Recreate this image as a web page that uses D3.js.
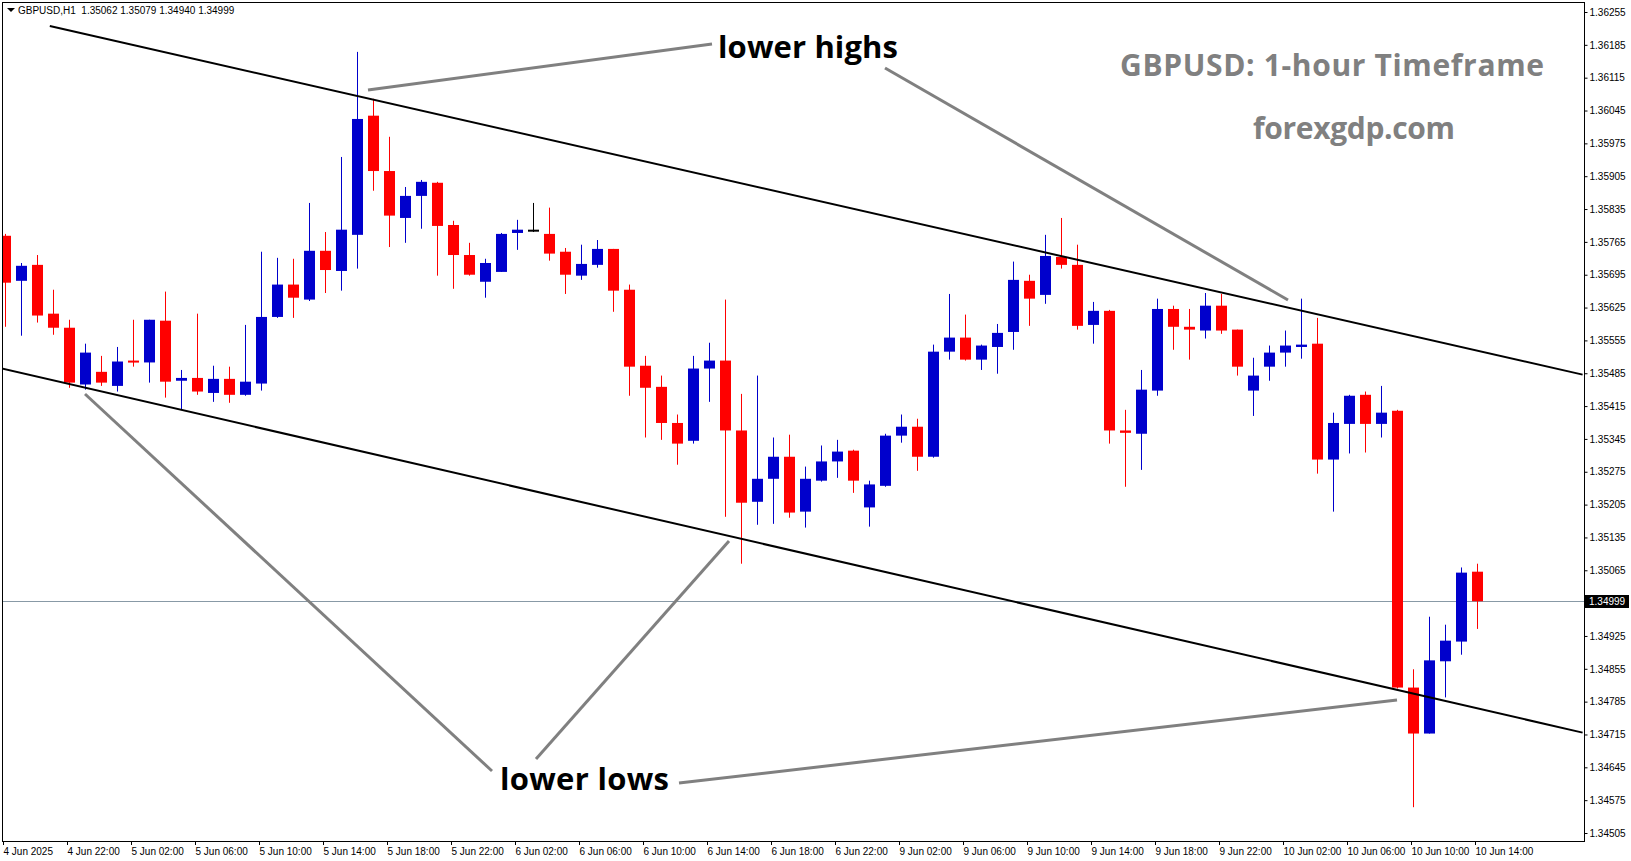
<!DOCTYPE html>
<html lang="en">
<head>
<meta charset="UTF-8">
<title>GBPUSD H1</title>
<script src="https://d3js.org/d3.v7.min.js"></script>
<style>
  body { margin: 0; background: #fff; }
  svg { display: block; }
</style>
</head>
<body>
<script>
// candle data, 4 Jun 18:00 .. 10 Jun 14:00 (H1)
const opens = [1.35778,1.35682,1.35716,1.35612,1.35582,1.35461,1.35488,1.35458,1.35512,1.35508,
  1.35597,1.35469,1.35475,1.35443,1.35473,1.35439,1.35463,1.35605,1.35674,1.35642,
  1.35746,1.35703,1.35780,1.36034,1.35916,1.35816,1.35863,1.35891,1.35801,1.35737,
  1.35680,1.35701,1.35784,1.35791,1.35782,1.35744,1.35693,1.35716,1.35750,1.35663,
  1.35501,1.35456,1.35379,1.35341,1.35495,1.35512,1.35363,1.35211,1.35260,1.35307,
  1.35190,1.35256,1.35297,1.35320,1.35199,1.35245,1.35352,1.35371,1.35307,1.35531,
  1.35561,1.35514,1.35541,1.35573,1.35682,1.35652,1.35733,1.35716,1.35588,1.35618,
  1.35363,1.35356,1.35448,1.35622,1.35584,1.35576,1.35629,1.35578,1.35448,1.35499,
  1.35529,1.35541,1.35548,1.35301,1.35377,1.35439,1.35377,1.35405,1.34815,1.34717,
  1.34871,1.34913,1.35062];
const highs = [1.35782,1.35720,1.35737,1.35663,1.35599,1.35548,1.35522,1.35541,1.35599,1.35599,
  1.35659,1.35492,1.35612,1.35501,1.35499,1.35588,1.35744,1.35731,1.35729,1.35848,
  1.35786,1.35946,1.36170,1.36070,1.35989,1.35882,1.35897,1.35893,1.35810,1.35763,
  1.35729,1.35784,1.35812,1.35848,1.35838,1.35752,1.35759,1.35769,1.35750,1.35674,
  1.35522,1.35480,1.35397,1.35522,1.35550,1.35642,1.35441,1.35480,1.35348,1.35354,
  1.35286,1.35331,1.35343,1.35322,1.35256,1.35356,1.35397,1.35388,1.35546,1.35654,
  1.35610,1.35546,1.35590,1.35723,1.35695,1.35780,1.35816,1.35759,1.35637,1.35620,
  1.35407,1.35492,1.35644,1.35629,1.35622,1.35656,1.35654,1.35578,1.35518,1.35544,
  1.35576,1.35644,1.35603,1.35401,1.35439,1.35446,1.35458,1.35407,1.34854,1.34966,
  1.34949,1.35071,1.35079];
const lows = [1.35584,1.35565,1.35593,1.35567,1.35454,1.35450,1.35458,1.35446,1.35499,1.35465,
  1.35433,1.35407,1.35439,1.35424,1.35422,1.35437,1.35448,1.35603,1.35603,1.35639,
  1.35656,1.35661,1.35708,1.35874,1.35754,1.35763,1.35793,1.35693,1.35665,1.35693,
  1.35646,1.35701,1.35748,1.35786,1.35725,1.35654,1.35684,1.35710,1.35616,1.35437,
  1.35348,1.35343,1.35290,1.35335,1.35424,1.35179,1.35079,1.35162,1.35164,1.35177,
  1.35156,1.35254,1.35262,1.35230,1.35158,1.35243,1.35337,1.35277,1.35305,1.35514,
  1.35512,1.35492,1.35484,1.35535,1.35586,1.35633,1.35708,1.35578,1.35548,1.35335,
  1.35243,1.35279,1.35437,1.35535,1.35514,1.35559,1.35569,1.35480,1.35394,1.35469,
  1.35499,1.35516,1.35271,1.35190,1.35314,1.35316,1.35348,1.34813,1.34560,1.34717,
  1.34794,1.34885,1.34940];
const closes = [1.35678,1.35714,1.35608,1.35582,1.35465,1.35529,1.35465,1.35510,1.35508,1.35599,
  1.35467,1.35475,1.35446,1.35473,1.35439,1.35467,1.35605,1.35674,1.35646,1.35746,
  1.35705,1.35791,1.36027,1.35916,1.35821,1.35863,1.35893,1.35799,1.35737,1.35695,
  1.35720,1.35782,1.35791,1.35791,1.35740,1.35695,1.35718,1.35750,1.35661,1.35499,
  1.35454,1.35379,1.35335,1.35495,1.35512,1.35363,1.35209,1.35260,1.35307,1.35188,
  1.35260,1.35297,1.35318,1.35256,1.35248,1.35352,1.35371,1.35307,1.35531,1.35561,
  1.35514,1.35544,1.35571,1.35684,1.35644,1.35735,1.35716,1.35586,1.35618,1.35363,
  1.35358,1.35450,1.35622,1.35584,1.35578,1.35629,1.35576,1.35499,1.35480,1.35529,
  1.35544,1.35546,1.35301,1.35379,1.35437,1.35377,1.35401,1.34815,1.34717,1.34873,
  1.34915,1.35060,1.34999];

const timeLabels = ["4 Jun 2025","4 Jun 22:00","5 Jun 02:00","5 Jun 06:00","5 Jun 10:00","5 Jun 14:00",
  "5 Jun 18:00","5 Jun 22:00","6 Jun 02:00","6 Jun 06:00","6 Jun 10:00","6 Jun 14:00","6 Jun 18:00",
  "6 Jun 22:00","9 Jun 02:00","9 Jun 06:00","9 Jun 10:00","9 Jun 14:00","9 Jun 18:00","9 Jun 22:00",
  "10 Jun 02:00","10 Jun 06:00","10 Jun 10:00","10 Jun 14:00"];
const priceTicks = [1.36255,1.36185,1.36115,1.36045,1.35975,1.35905,1.35835,1.35765,1.35695,1.35625,
  1.35555,1.35485,1.35415,1.35345,1.35275,1.35205,1.35135,1.35065,1.34925,1.34855,
  1.34785,1.34715,1.34645,1.34575,1.34505];
const lastPrice = 1.34999;

// trend channel: [candle index, price]
const upperLine = [[2.8, 1.36225], [98.6, 1.35482]];
const lowerLine = [[-0.2, 1.35495], [98.6, 1.34719]];

const w = 1631, h = 861;
const pL = 3, pT = 3, pR = 1584, pB = 841;

const svg = d3.select("body").append("svg").attr("width", w).attr("height", h);

const x = d3.scaleLinear().domain([0, 92]).range([5, 1477]);
const y = d3.scaleLinear().domain([1.34505, 1.36255]).range([833, 12]);

svg.append("defs").append("clipPath").attr("id", "plot")
  .append("rect").attr("x", pL).attr("y", pT).attr("width", pR - pL).attr("height", pB - pT);

// frame
svg.append("rect").attr("x", pL - 0.5).attr("y", pT - 0.5)
  .attr("width", pR - pL + 1).attr("height", pB - pT + 1)
  .attr("fill", "none").attr("stroke", "#000");

// price axis
const yAxis = d3.axisRight(y).tickValues(priceTicks).tickSize(3).tickFormat(d3.format(".5f"));
svg.append("g").attr("transform", `translate(${pR + 0.5},0)`).call(yAxis)
  .call(g => g.select(".domain").remove())
  .call(g => g.selectAll("text").attr("x", 5).style("font", "10px 'Liberation Sans', sans-serif").attr("fill", "#000"));

// time axis
const tg = svg.append("g").attr("font-family", "'Liberation Sans', sans-serif").attr("font-size", 10);
timeLabels.forEach((t, k) => {
  const px = Math.round(x(k * 4)) - 1.5;
  tg.append("line").attr("x1", px).attr("x2", px).attr("y1", pB).attr("y2", pB + 4).attr("stroke", "#000");
  tg.append("text").attr("x", px).attr("y", pB + 14).text(t);
});

const plot = svg.append("g").attr("clip-path", "url(#plot)");

// current price line
const ly = Math.round(y(lastPrice));
plot.append("line").attr("x1", pL).attr("x2", pR).attr("y1", ly + 0.5).attr("y2", ly + 0.5)
  .attr("stroke", "#8899a6").attr("stroke-width", 1);

// candles
const data = d3.range(opens.length).map(i => ({ i, o: opens[i], h: highs[i], l: lows[i], c: closes[i] }));
const col = d => d.c > d.o ? "#0000cc" : d.c < d.o ? "#ff0000" : "#000";
const cg = plot.selectAll("g.candle").data(data).enter().append("g").attr("class", "candle");
cg.append("line")
  .attr("x1", d => Math.round(x(d.i)) + 0.5).attr("x2", d => Math.round(x(d.i)) + 0.5)
  .attr("y1", d => y(d.h)).attr("y2", d => y(d.l)).attr("stroke", col);
cg.append("rect")
  .attr("x", d => Math.round(x(d.i)) - 5).attr("width", 11)
  .attr("y", d => y(Math.max(d.o, d.c)))
  .attr("height", d => Math.max(2, Math.abs(y(d.o) - y(d.c))))
  .attr("fill", col);

// channel lines
[upperLine, lowerLine].forEach(l => {
  plot.append("line").attr("x1", x(l[0][0])).attr("y1", y(l[0][1]))
    .attr("x2", x(l[1][0])).attr("y2", y(l[1][1])).attr("stroke", "#000").attr("stroke-width", 2);
});

// annotation pointers
const pointers = [[368, 90, 712, 44], [885, 68, 1288, 300], [85, 394, 492, 771], [536, 759, 729, 541], [679, 783, 1397, 700]];
pointers.forEach(p => {
  svg.append("line").attr("x1", p[0]).attr("y1", p[1]).attr("x2", p[2]).attr("y2", p[3])
    .attr("stroke", "#808080").attr("stroke-width", 3);
});

const font = "'Open Sans', 'Noto Sans', sans-serif";
svg.append("text").attr("x", 718).attr("y", 58).attr("font-family", font).attr("font-weight", "bold")
  .attr("font-size", 31).attr("textLength", 180).attr("fill", "#000").text("lower highs");
svg.append("text").attr("x", 500).attr("y", 790).attr("font-family", font).attr("font-weight", "bold")
  .attr("font-size", 31).attr("textLength", 169).attr("fill", "#000").text("lower lows");
svg.append("text").attr("x", 1120).attr("y", 76).attr("font-family", font)
  .attr("font-weight", "bold").attr("font-size", 30).attr("textLength", 424).attr("fill", "#808080").text("GBPUSD: 1-hour Timeframe");
svg.append("text").attr("x", 1253).attr("y", 139).attr("font-family", font)
  .attr("font-weight", "bold").attr("font-size", 30).attr("textLength", 202).attr("fill", "#808080").text("forexgdp.com");

// header
svg.append("path").attr("d", "M7,8 L15,8 L11,12 Z").attr("fill", "#000");
svg.append("text").attr("x", 18).attr("y", 14).attr("font-family", "'Liberation Sans', sans-serif")
  .attr("font-size", 10).attr("xml:space", "preserve").text("GBPUSD,H1  1.35062 1.35079 1.34940 1.34999");

// last price label
svg.append("rect").attr("x", pR + 1).attr("y", ly - 6).attr("width", 44).attr("height", 13).attr("fill", "#000");
svg.append("text").attr("x", pR + 5).attr("y", ly + 4).attr("fill", "#fff")
  .attr("font-family", "'Liberation Sans', sans-serif").attr("font-size", 10).text(d3.format(".5f")(lastPrice));
</script>
</body>
</html>
